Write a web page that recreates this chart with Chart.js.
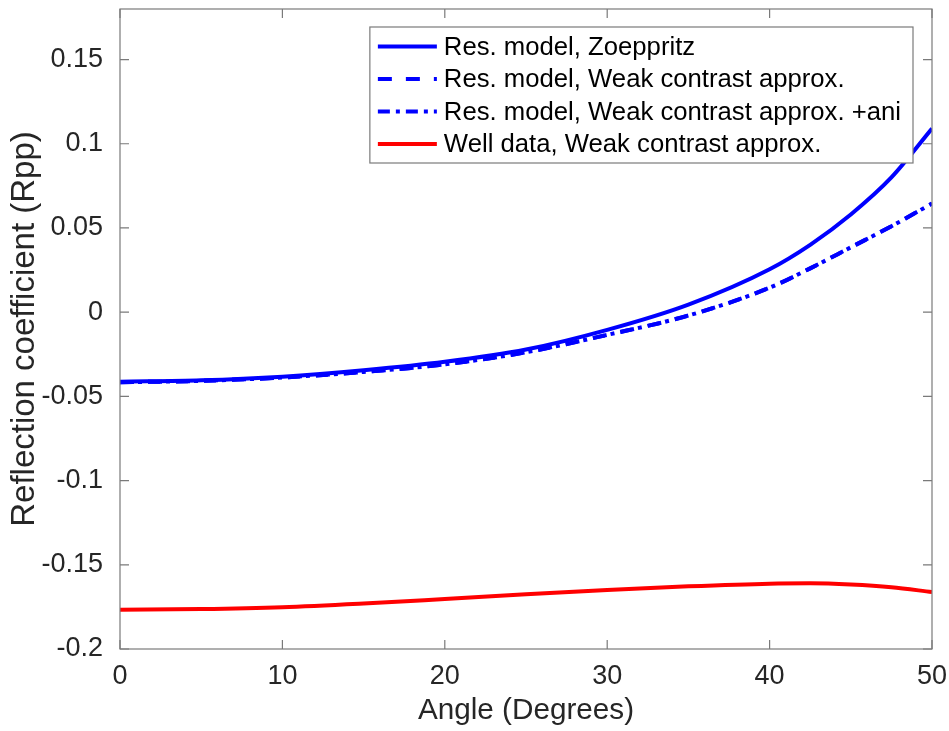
<!DOCTYPE html>
<html>
<head>
<meta charset="utf-8">
<script src="https://cdn.jsdelivr.net/npm/chart.js@4"></script>
<style>
  html, body { margin: 0; padding: 0; background: #fff; }
  #wrap { width: 949px; height: 731px; }
</style>
</head>
<body>
<div id="wrap"><canvas id="chart" width="949" height="731"></canvas></div>
<script>
// -----------------------------
// Data
// -----------------------------
const angles = [0, 5, 10, 15, 20, 25, 30, 35, 40, 42.5, 45, 47.5, 50];
const resZoeppritz = [-0.0413, -0.0405, -0.0383, -0.0345, -0.0295, -0.0222, -0.0105, 0.0045, 0.0255, 0.040, 0.058, 0.080, 0.109];
const resWeak = [-0.0416, -0.0408, -0.0388, -0.0355, -0.031, -0.0238, -0.0135, -0.002, 0.0145, 0.026, 0.0385, 0.051, 0.0645];
const resWeakAni = [-0.0416, -0.0408, -0.0388, -0.0355, -0.031, -0.0238, -0.0135, -0.002, 0.0145, 0.026, 0.0385, 0.051, 0.0645];
const wellWeak = [-0.1767, -0.1763, -0.1752, -0.1730, -0.1703, -0.1675, -0.1650, -0.1628, -0.1612, -0.1610, -0.1617, -0.1633, -0.1662];
const yTicks = [-0.2, -0.15, -0.1, -0.05, 0, 0.05, 0.1, 0.15];
const xTicks = [0, 10, 20, 30, 40, 50];

const FONT = "'Liberation Sans', Arial, Helvetica, sans-serif";
const AXIS_COLOR = '#262626';

const pts = vals => angles.map((a, i) => ({ x: a, y: vals[i] }));

// no extra label padding, so the plot box lands where the reference has it
function noPad(s) {
    s.paddingLeft = 0; s.paddingRight = 0; s.paddingTop = 0; s.paddingBottom = 0;
}

// -----------------------------
// Box, inside ticks and legend (MATLAB look)
// -----------------------------
const matlabAxes = {
    id: 'matlabAxes',
    afterDatasetsDraw(chart) {
        const { ctx, chartArea: a, scales } = chart;
        ctx.save();
        ctx.strokeStyle = '#7a7a7a';
        ctx.lineWidth = 1.2;
        ctx.strokeRect(a.left, a.top, a.right - a.left, a.bottom - a.top);
        ctx.beginPath();
        const tl = 9;
        xTicks.forEach(v => {
            const x = scales.x.getPixelForValue(v);
            ctx.moveTo(x, a.bottom); ctx.lineTo(x, a.bottom - tl);
            ctx.moveTo(x, a.top); ctx.lineTo(x, a.top + tl);
        });
        yTicks.forEach(v => {
            const y = scales.y.getPixelForValue(v);
            ctx.moveTo(a.left, y); ctx.lineTo(a.left + tl, y);
            ctx.moveTo(a.right, y); ctx.lineTo(a.right - tl, y);
        });
        ctx.stroke();

        // legend
        const ds = chart.data.datasets;
        ctx.font = '25.7px ' + FONT;
        const maxW = Math.max(...ds.map(d => ctx.measureText(d.label).width));
        const boxRight = a.right - 19;
        const boxTop = a.top + 18;
        const rowH = 32.5;
        const boxW = 74 + maxW + 12;
        const boxLeft = boxRight - boxW;
        const boxH = rowH * ds.length + 6;
        ctx.fillStyle = '#fff';
        ctx.fillRect(boxLeft, boxTop, boxW, boxH);
        ctx.strokeStyle = '#7a7a7a';
        ctx.lineWidth = 1.2;
        ctx.strokeRect(boxLeft, boxTop, boxW, boxH);
        ds.forEach((d, i) => {
            const cy = boxTop + 19.5 + i * rowH;
            ctx.beginPath();
            ctx.strokeStyle = d.borderColor;
            ctx.lineWidth = d.borderWidth;
            ctx.setLineDash(d.borderDash || []);
            ctx.moveTo(boxLeft + 8, cy);
            ctx.lineTo(boxLeft + 67, cy);
            ctx.stroke();
            ctx.setLineDash([]);
            ctx.fillStyle = '#000';
            ctx.textBaseline = 'middle';
            ctx.textAlign = 'left';
            ctx.fillText(d.label, boxLeft + 74, cy + 1);
        });
        ctx.restore();
    }
};

// -----------------------------
// Chart.js
// -----------------------------
const ctx = document.getElementById('chart').getContext('2d');
new Chart(ctx, {
    type: 'line',
    data: {
        datasets: [
            { label: 'Res. model, Zoeppritz', data: pts(resZoeppritz), borderColor: '#0000ff', borderWidth: 4 },
            { label: 'Res. model, Weak contrast approx.', data: pts(resWeak), borderColor: '#0000ff', borderWidth: 4, borderDash: [14, 14] },
            { label: 'Res. model, Weak contrast approx. +ani', data: pts(resWeakAni), borderColor: '#0000ff', borderWidth: 4, borderDash: [12, 6, 4, 6] },
            { label: 'Well data, Weak contrast approx.', data: pts(wellWeak), borderColor: '#ff0000', borderWidth: 4 }
        ]
    },
    options: {
        responsive: false,
        animation: false,
        layout: { padding: { left: 0, right: 17, top: 9, bottom: 0 } },
        elements: {
            point: { radius: 0 },
            line: { cubicInterpolationMode: 'monotone', borderCapStyle: 'butt', fill: false }
        },
        plugins: { legend: { display: false }, tooltip: { enabled: false } },
        scales: {
            x: {
                type: 'linear', min: 0, max: 50,
                afterBuildTicks: s => { s.ticks = xTicks.map(v => ({ value: v })); },
                afterFit: s => { s.height = 82; noPad(s); },
                grid: { display: false },
                border: { display: false },
                ticks: { padding: 3, color: AXIS_COLOR, font: { family: FONT, size: 27 }, maxRotation: 0 },
                title: { display: true, text: 'Angle (Degrees)', color: AXIS_COLOR, font: { family: FONT, size: 29.7 }, padding: { top: 0, bottom: 2 } }
            },
            y: {
                type: 'linear', min: -0.2, max: 0.18,
                afterBuildTicks: s => { s.ticks = yTicks.map(v => ({ value: v })); },
                afterFit: s => { s.width = 120; noPad(s); },
                grid: { display: false },
                border: { display: false },
                ticks: {
                    padding: 9, color: AXIS_COLOR, font: { family: FONT, size: 27 },
                    callback: v => String(Math.round(v * 100) / 100)
                },
                title: { display: true, text: 'Reflection coefficient (Rpp)', color: AXIS_COLOR, font: { family: FONT, size: 33 }, padding: { top: 5, bottom: 0 } }
            }
        }
    },
    plugins: [matlabAxes]
});
</script>
</body>
</html>
